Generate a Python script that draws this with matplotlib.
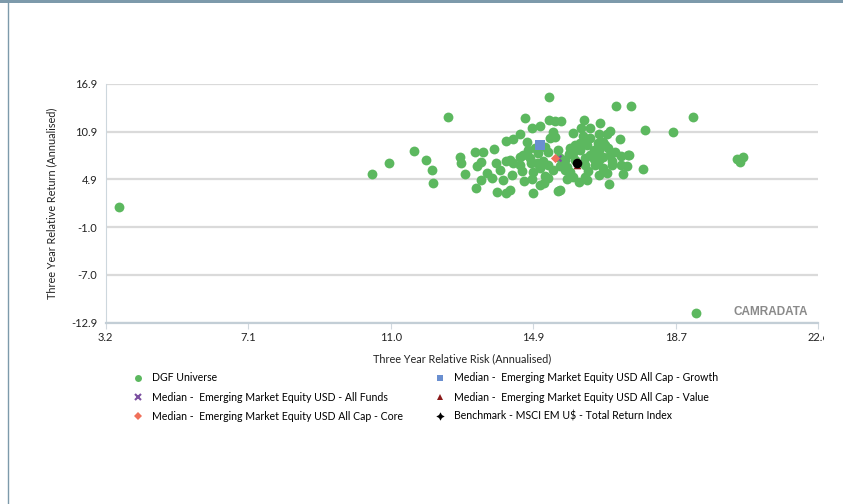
import numpy as np
import matplotlib
matplotlib.use("Agg")
from matplotlib import pyplot as plt
from matplotlib.lines import Line2D
from matplotlib.transforms import Bbox, TransformedBbox

# DGF universe: three year relative risk / return (annualised)
risk = [
    15.28, 17.09, 17.50, 12.51, 14.62, 15.28, 15.43, 15.60, 16.23, 16.67,
    15.03, 14.81, 16.15, 16.39, 17.88, 15.39, 16.94, 14.49, 15.93, 16.64,
    16.84, 16.19, 17.20, 14.30, 14.09, 14.66, 15.30, 15.43, 16.39, 16.60,
    16.75, 16.30, 11.59, 10.92, 10.46, 11.91, 12.08, 12.10, 12.85, 12.87,
    12.98, 13.25, 13.46, 13.77, 13.32, 13.42, 13.82, 14.09, 13.59, 13.94,
    13.42, 13.71, 14.02, 13.27, 13.85, 14.09, 14.21, 14.26, 14.53, 14.30,
    14.48, 14.55, 14.59, 14.83, 14.80, 14.84, 14.78, 14.93, 15.11, 15.02,
    15.13, 15.50, 15.50, 15.82, 15.93, 16.11, 15.57, 15.75, 15.84, 15.75,
    15.93, 16.09, 16.25, 16.34, 16.48, 16.57, 16.75, 16.88, 16.98, 17.22,
    17.46, 16.75, 16.84, 17.23, 17.38, 17.28, 17.84, 16.91, 19.18, 18.64,
    17.43, 20.38, 20.54, 20.47, 19.27, 3.56, 15.57,
    16.60, 16.49, 16.39, 16.25, 16.64, 16.80, 17.07, 16.99, 15.98, 15.71,
    16.25, 16.52, 16.64, 16.31, 15.57, 15.71, 16.93, 16.64, 15.24, 15.16,
    14.97, 14.70, 14.89, 15.24, 15.38, 15.16, 14.48, 14.21, 14.75, 15.03,
    15.24, 16.25, 16.11, 15.98, 15.84,
]
ret = [
    15.31, 14.15, 14.15, 12.81, 12.69, 12.36, 12.28, 12.28, 12.40, 11.99,
    11.65, 11.36, 11.36, 11.36, 11.15, 10.94, 11.03, 10.62, 10.81, 10.65,
    10.61, 10.44, 9.99, 10.07, 9.74, 9.65, 10.12, 10.31, 10.12, 9.49,
    9.69, 9.28, 8.49, 7.07, 5.62, 7.40, 6.12, 4.53, 7.82, 6.99,
    5.62, 8.44, 8.44, 8.74, 6.65, 7.19, 7.03, 7.24, 5.74, 6.15,
    4.90, 5.12, 4.90, 3.87, 3.44, 3.24, 3.65, 5.53, 6.07, 6.99,
    7.74, 8.03, 4.82, 3.24, 4.99, 5.94, 6.99, 6.99, 7.32, 4.28,
    4.49, 3.53, 8.62, 8.15, 8.24, 8.65, 6.65, 6.49, 5.94, 4.99,
    5.32, 4.65, 5.32, 6.07, 7.49, 8.32, 7.74, 8.87, 7.32, 7.90,
    8.03, 6.37, 5.74, 6.78, 6.65, 5.62, 6.32, 4.37, 12.74, 10.90,
    8.07, 7.53, 7.74, 7.19, -11.75, 1.57, 3.65,
    9.03, 8.65, 8.03, 7.65, 8.65, 9.28, 8.40, 6.78, 7.40, 7.40,
    6.78, 6.78, 5.53, 4.90, 7.65, 6.15, 8.03, 7.40, 8.40, 9.03,
    8.28, 8.65, 8.90, 6.78, 6.15, 5.40, 6.78, 7.40, 7.65, 6.40,
    5.15, 9.90, 9.53, 9.28, 8.90,
]

# medians and benchmark (risk, return)
med_all_funds = (15.50, 7.63)
med_core = (15.43, 7.65)
med_growth = (15.01, 9.28)
med_value = (16.04, 6.80)
benchmark = (16.04, 7.07)

x_ticks = np.linspace(3.2, 22.6, 6)
y_ticks = np.linspace(-12.9, 16.9, 6)
x_tick_labels = ["3.2", "7.1", "11.0", "14.9", "18.7", "22.6"]
y_tick_labels = ["-12.9", "-7.0", "-1.0", "4.9", "10.9", "16.9"]

GREEN = "#5cb85f"
BLUE = "#6a8fd0"
PURPLE = "#7b4fa0"
CORAL = "#f0705a"
DARKRED = "#8b1a1a"
FRAME = "#7d9aab"

plt.rcParams["font.family"] = ["Lato", "DejaVu Sans"]

fig = plt.figure(figsize=(8.43, 5.04), dpi=100)
ax = fig.add_axes([105.7 / 843, 1 - 322.5 / 504, 712.6 / 843, 238.5 / 504])

ax.scatter(risk, ret, s=50, color=GREEN, linewidths=0, zorder=3)
ax.scatter(*med_growth, marker="s", s=50, color=BLUE, linewidths=0, zorder=4)
ax.scatter(*med_value, marker="^", s=30, color=DARKRED, linewidths=0, zorder=4)
ax.scatter(*med_all_funds, marker="x", s=18, color=PURPLE, linewidths=1.5, zorder=4)
ax.scatter(*med_core, marker="D", s=22, color=CORAL, linewidths=0, zorder=5)
ax.scatter(*benchmark, marker="o", s=48, color="black", linewidths=0, zorder=6)

ax.set_xlim(3.2, 22.6)
ax.set_ylim(-12.9, 16.9)
ax.set_xticks(x_ticks)
ax.set_xticklabels(x_tick_labels)
ax.set_yticks(y_ticks)
ax.set_yticklabels(y_tick_labels)
ax.tick_params(axis="x", length=4, color="#d0d8de", labelsize=8, pad=3, labelcolor="#222222")
ax.tick_params(axis="y", length=0, labelsize=8, pad=6, labelcolor="#222222")
ax.grid(axis="y", color="#dadada", linewidth=1.6, zorder=0)
ax.set_axisbelow(True)
for side in ["top", "right"]:
    ax.spines[side].set_visible(False)
ax.spines["left"].set_color("#cdd7dd")
ax.spines["bottom"].set_color("#c3ced6")
ax.spines["bottom"].set_linewidth(1.6)

ax.set_xlabel("Three Year Relative Risk (Annualised)", fontsize=7.8, labelpad=7, color="#222222")
ax.set_ylabel("Three Year Relative Return (Annualised)", fontsize=7.8, labelpad=10, color="#222222")

# clip the last tick label like the reference
clip = TransformedBbox(Bbox([[0, 0], [824 / 843, 1]]), fig.transFigure)
for lbl in ax.get_xticklabels():
    lbl.set_clip_box(clip)
    lbl.set_clip_on(True)

ax.text(0.985, 0.045, "CAMRADATA", transform=ax.transAxes, ha="right", va="center",
        fontsize=8.5, fontweight="bold", color="#8a8a8a", family=["Liberation Sans", "DejaVu Sans"])

handles = [
    Line2D([], [], ls="", marker="o", ms=5, color=GREEN, mew=0),
    Line2D([], [], ls="", marker="x", ms=4, color=PURPLE, mew=1.5),
    Line2D([], [], ls="", marker="D", ms=4, color=CORAL, mew=0),
    Line2D([], [], ls="", marker="s", ms=5, color=BLUE, mew=0),
    Line2D([], [], ls="", marker="^", ms=5, color=DARKRED, mew=0),
    Line2D([], [], ls="", marker=(4, 1, 0), ms=6, color="black", mew=0),
]
labels = [
    "DGF Universe",
    "Median -  Emerging Market Equity USD - All Funds",
    "Median -  Emerging Market Equity USD All Cap - Core",
    "Median -  Emerging Market Equity USD All Cap - Growth",
    "Median -  Emerging Market Equity USD All Cap - Value",
    "Benchmark - MSCI EM U$ - Total Return Index",
]
leg_kw = dict(loc="upper left", frameon=False, fontsize=7.6, handlelength=1.0,
              handletextpad=0.9, labelspacing=0.78, borderpad=0)
leg1 = fig.legend(handles[:3], labels[:3], bbox_to_anchor=(127 / 843, 1 - 367 / 504), **leg_kw)
leg2 = fig.legend(handles[3:], labels[3:], bbox_to_anchor=(429 / 843, 1 - 367 / 504), **leg_kw)

# outer frame: top bar and left rule
fig.add_artist(plt.Rectangle((0, 1 - 3 / 504), 1, 3 / 504, transform=fig.transFigure,
                             color=FRAME, lw=0))
fig.add_artist(Line2D([7.5 / 843, 7.5 / 843], [0, 1], transform=fig.transFigure,
                      color=FRAME, lw=1))

fig.savefig("out.png", dpi=100)
